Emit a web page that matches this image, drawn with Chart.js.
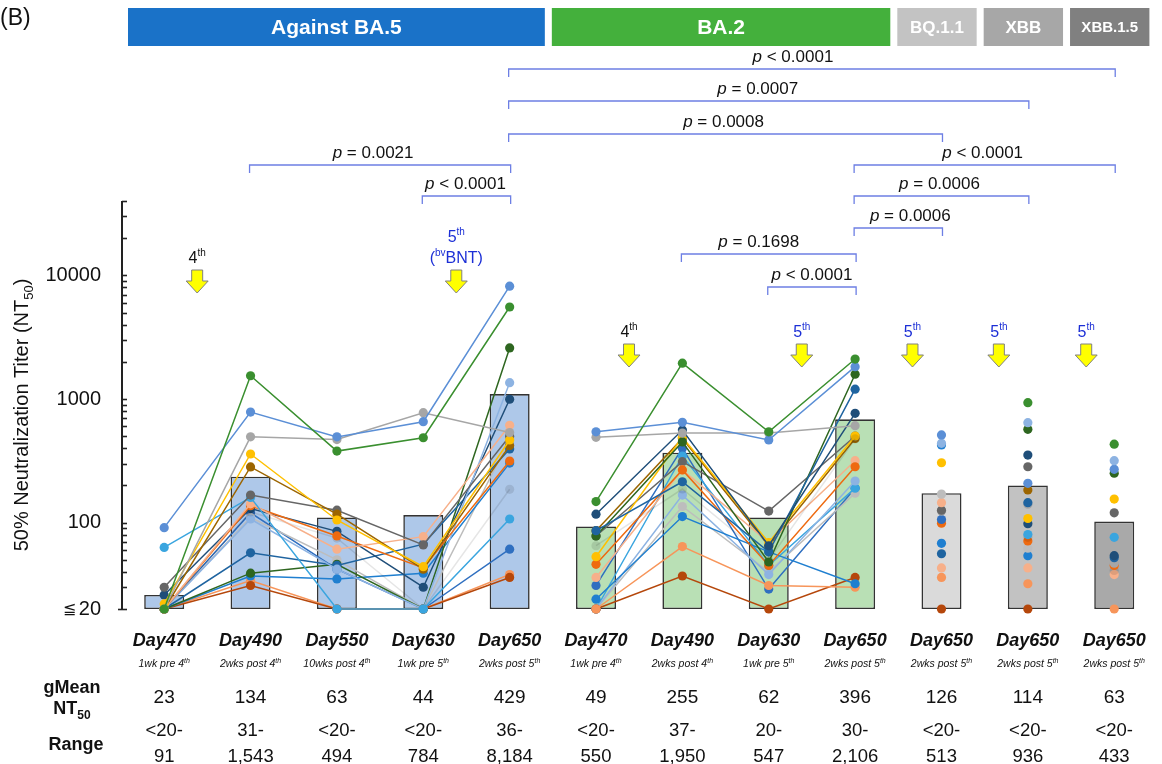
<!DOCTYPE html>
<html>
<head>
<meta charset="utf-8">
<script src="https://cdn.jsdelivr.net/npm/chart.js@4.4.1/dist/chart.umd.min.js"></script>
<style>
  html, body { margin: 0; padding: 0; background: #ffffff; }
  #wrap { width: 1162px; height: 764px; position: relative; }
</style>
</head>
<body>
<div id="wrap"><canvas id="chart" width="1162" height="764"></canvas></div>
<script>
// ---- categories and table rows ----
const categories = ['Day470', 'Day490', 'Day550', 'Day630', 'Day650',
                    'Day470', 'Day490', 'Day630', 'Day650',
                    'Day650', 'Day650', 'Day650'];
const subLabels = [['1wk pre 4', 'th'], ['2wks post 4', 'th'], ['10wks post 4', 'th'], ['1wk pre 5', 'th'], ['2wks post 5', 'th'],
                   ['1wk pre 4', 'th'], ['2wks post 4', 'th'], ['1wk pre 5', 'th'], ['2wks post 5', 'th'],
                   ['2wks post 5', 'th'], ['2wks post 5', 'th'], ['2wks post 5', 'th']];
const gMeanNT50 = ['23', '134', '63', '44', '429', '49', '255', '62', '396', '126', '114', '63'];
const rangeLow  = ['<20-', '31-', '<20-', '<20-', '36-', '<20-', '37-', '20-', '30-', '<20-', '<20-', '<20-'];
const rangeHigh = ['91', '1,543', '494', '784', '8,184', '550', '1,950', '547', '2,106', '513', '936', '433'];

// column bar heights
const barValues = [26, 235, 110, 115, 1097, 93, 368, 110, 685, 173, 200, 102];

// variant groups (first column, last column, header text)
const variantGroups = [[0, 4, 'Against BA.5'], [5, 8, 'BA.2'], [9, 9, 'BQ.1.1'], [10, 10, 'XBB'], [11, 11, 'XBB.1.5']];

// y axis ticks
const yTicks = [20, 30, 40, 50, 60, 70, 80, 90,
                100, 200, 300, 400, 500, 600, 700, 800, 900,
                1000, 2000, 3000, 4000, 5000, 6000, 7000, 8000, 9000,
                10000, 20000, 30000, 40000];
const yTickLabels = { 100: '100', 1000: '1000', 10000: '10000', 20: '20' };

// p-value comparisons: [from column, to column, label]
const pComparisons = [
  [4, 11, '< 0.0001'],
  [4, 10, '= 0.0007'],
  [4, 9,  '= 0.0008'],
  [1, 4,  '= 0.0021'],
  [8, 11, '< 0.0001'],
  [8, 10, '= 0.0006'],
  [3, 4,  '< 0.0001'],
  [8, 9,  '= 0.0006'],
  [6, 8,  '= 0.1698'],
  [7, 8,  '< 0.0001']
];

// booster doses: [column the arrow follows, dose number, vaccine note]
const doseMarks = [[0, '4', ''], [3, '5', 'BNT'], [5, '4', ''], [7, '5', ''], [9, '5', ''], [10, '5', ''], [11, '5', '']];

// ---- individual titers ----
// BA.5: Day470, Day490, Day550, Day630, Day650
const ba5Titers = [
  [20, 1543, 379, 486, 5550],
  [91, 784, 494, 655, 8184],
  [20, 494, 470, 775, 535],
  [22, 359, 105, 44, 466],
  [20, 282, 117, 42, 420],
  [30, 167, 126, 66, 500],
  [63, 160, 20, 20, 107],
  [20, 142, 61, 77, 613],
  [20, 137, 78, 43, 315],
  [20, 122, 75, 20, 186],
  [20, 107, 42, 20, 1356],
  [26, 130, 85, 30, 996],
  [20, 57, 45, 67, 394],
  [20, 39, 46, 20, 2590],
  [20, 37, 35, 39, 303],
  [20, 31, 20, 20, 36],
  [20, 34, 20, 20, 38],
  [20, 110, 50, 20, 470],
  [20, 120, 42, 20, 61]
];
const ba5Colors = ['green', 'cornflower', 'grey', 'yellow', 'brown', 'darkGrey', 'skyBlue', 'peach', 'orange',
                   'lightGreen', 'lightCorn', 'navy', 'teal', 'darkGreen', 'blue', 'rust', 'lightOrange', 'lightGrey', 'midBlue'];

// BA.2: Day470, Day490, Day630, Day650
const ba2Titers = [
  [148, 1950, 543, 2106],
  [543, 648, 466, 1828],
  [490, 530, 530, 608],
  [117, 561, 65, 766],
  [86, 214, 58, 1200],
  [78, 450, 48, 1587],
  [65, 187, 50, 475],
  [53, 490, 69, 502],
  [46, 267, 45, 283],
  [36, 267, 69, 317],
  [24, 112, 58, 32],
  [20, 64, 31, 30],
  [20, 37, 20, 36],
  [20, 167, 38, 217],
  [78, 311, 124, 500],
  [20, 346, 45, 190],
  [20, 135, 40, 173],
  [86, 480, 65, 480],
  [31, 400, 29, 190]
];
const ba2Colors = ['green', 'cornflower', 'grey', 'navy', 'teal', 'darkGreen', 'lightGreen', 'yellow', 'orange',
                   'peach', 'blue', 'lightOrange', 'rust', 'lightCorn', 'darkGrey', 'skyBlue', 'lightGrey', 'brown', 'midBlue'];

// Day650 against BQ.1.1, XBB, XBB.1.5
const bq11Titers = [512, 438, 425, 305, 170, 145, 126, 124, 106, 99, 68, 56, 43, 36, 20];
const bq11Colors = ['cornflower', 'lightCorn', 'blue', 'yellow', 'lightGrey', 'peach', 'darkGrey', 'grey', 'midBlue', 'orange',
                    'blue', 'teal', 'peach', 'lightOrange', 'rust'];
const xbbTiters = [934, 643, 569, 352, 283, 208, 184, 145, 141, 108, 98, 80, 76, 71, 62, 54, 43, 32, 20];
const xbbColors = ['green', 'lightCorn', 'darkGreen', 'navy', 'darkGrey', 'cornflower', 'brown', 'teal', 'grey', 'yellow',
                   'navy', 'skyBlue', 'lightGreen', 'orange', 'lightGrey', 'blue', 'peach', 'lightOrange', 'rust'];
const xbb15Titers = [431, 317, 270, 251, 155, 120, 76, 54, 52, 47, 45, 41, 38, 20];
const xbb15Colors = ['green', 'lightCorn', 'cornflower', 'darkGreen', 'yellow', 'darkGrey', 'skyBlue', 'navy', 'teal',
                     'grey', 'orange', 'lightGreen', 'peach', 'lightOrange'];

// ---- styling ----
const palette = {
  green: '#3a8f2f', cornflower: '#5b8fd6', lightCorn: '#8db3e2', darkGreen: '#2e6620',
  navy: '#1f4e79', teal: '#1f64a0', blue: '#1f7fd0', midBlue: '#2f6fc0', skyBlue: '#3aa5df',
  grey: '#a6a6a6', lightGrey: '#bdbdbd', darkGrey: '#666666', yellow: '#ffc000', brown: '#9c6500',
  peach: '#f7b08a', orange: '#ee6a10', lightOrange: '#f7955a', rust: '#b5470b'
};
const barFills = ['#aec8e9', '#aec8e9', '#aec8e9', '#aec8e9', '#aec8e9',
                  '#b9e0b5', '#b9e0b5', '#b9e0b5', '#b9e0b5',
                  '#dadada', '#c2c2c2', '#a9a9a9'];
const headerFills = ['#1a72c8', '#44b03c', '#c3c3c3', '#a7a7a7', '#808080'];
const headerFont = [21, 21, 17, 17, 15];
const FONT = "'Liberation Sans', Arial, Helvetica, sans-serif";
const BRACKET = '#6d7fe4';
const DOSE_BLUE = '#1c2fd6';

function seriesAt(offset, values) {
  const row = new Array(categories.length).fill(null);
  values.forEach((v, i) => { row[offset + i] = v; });
  return row;
}

function lineSet(data, colorName, showLine) {
  const c = palette[colorName];
  return {
    type: 'line', data, showLine, spanGaps: false, clip: false, order: 0,
    borderColor: c, backgroundColor: c, borderWidth: 1.5,
    pointBackgroundColor: c, pointBorderWidth: 0, pointRadius: 4.6, pointHoverRadius: 4.6
  };
}

const datasets = [{
  type: 'bar', data: barValues, order: 1,
  backgroundColor: barFills, borderColor: '#333333', borderWidth: 1.6, borderSkipped: false,
  barPercentage: 0.463, categoryPercentage: 1
}];
ba5Titers.forEach((r, i) => datasets.push(lineSet(seriesAt(0, r), ba5Colors[i], true)));
ba2Titers.forEach((r, i) => datasets.push(lineSet(seriesAt(5, r), ba2Colors[i], true)));
bq11Titers.forEach((v, i) => datasets.push(lineSet(seriesAt(9, [v]), bq11Colors[i], false)));
xbbTiters.forEach((v, i) => datasets.push(lineSet(seriesAt(10, [v]), xbbColors[i], false)));
xbb15Titers.forEach((v, i) => datasets.push(lineSet(seriesAt(11, [v]), xbb15Colors[i], false)));

// ---- text helpers ----
function font(size, bold, italic) {
  return (italic ? 'italic ' : '') + (bold ? 'bold ' : '') + size + 'px ' + FONT;
}
// parts: {t, size, bold, italic, dy}; y is the baseline
function richText(ctx, parts, x, y, align, color) {
  let w = 0;
  parts.forEach(p => { ctx.font = font(p.size, p.bold, p.italic); p.w = ctx.measureText(p.t).width; w += p.w; });
  let px = align === 'center' ? x - w / 2 : (align === 'right' ? x - w : x);
  ctx.fillStyle = color;
  ctx.textAlign = 'left';
  ctx.textBaseline = 'alphabetic';
  parts.forEach(p => {
    ctx.font = font(p.size, p.bold, p.italic);
    ctx.fillText(p.t, px, y + (p.dy || 0));
    px += p.w;
  });
}
function plainText(ctx, t, x, y, size, opts) {
  opts = opts || {};
  ctx.font = font(size, opts.bold, opts.italic);
  ctx.fillStyle = opts.color || '#111111';
  ctx.textAlign = opts.align || 'center';
  ctx.textBaseline = 'middle';
  ctx.fillText(t, x, y);
}
function downArrow(ctx, x, top) {
  const h = 23, shaftH = 11, sw = 5.5, hw = 11;
  ctx.beginPath();
  ctx.moveTo(x - sw, top);
  ctx.lineTo(x + sw, top);
  ctx.lineTo(x + sw, top + shaftH);
  ctx.lineTo(x + hw, top + shaftH);
  ctx.lineTo(x, top + h);
  ctx.lineTo(x - hw, top + shaftH);
  ctx.lineTo(x - sw, top + shaftH);
  ctx.closePath();
  ctx.fillStyle = '#ffff00';
  ctx.fill();
  ctx.strokeStyle = '#808080';
  ctx.lineWidth = 1;
  ctx.stroke();
}

// ---- decorations drawn around the plot ----
const decorations = {
  id: 'decorations',
  afterDraw(chart) {
    const ctx = chart.ctx;
    const xs = chart.scales.x, ys = chart.scales.y, area = chart.chartArea;
    const cx = i => xs.getPixelForValue(i);
    const step = cx(1) - cx(0);
    ctx.save();

    // panel letter
    plainText(ctx, '(B)', 0, 19, 23, { align: 'left' });

    // variant headers
    variantGroups.forEach((g, k) => {
      const l = cx(g[0]) - step / 2 + (k === 0 ? 7 : -1);
      const r = cx(g[1]) + step / 2 - 8;
      ctx.fillStyle = headerFills[k];
      ctx.fillRect(l, 8, r - l, 38);
      plainText(ctx, g[2], (l + r) / 2, 28, headerFont[k], { bold: true, color: '#ffffff' });
    });

    // p-value brackets
    const rowY = [69, 101, 134, 165, 165, 196, 196, 228, 254, 287];
    const textDx = [-19, -11, -2, -7, -2, -2, -1, 12, -10, 0];
    ctx.strokeStyle = BRACKET;
    ctx.lineWidth = 1.3;
    pComparisons.forEach((c, k) => {
      const x1 = cx(c[0]) - 1, x2 = cx(c[1]) + 1, y = rowY[k];
      ctx.beginPath();
      ctx.moveTo(x1, y + 8); ctx.lineTo(x1, y); ctx.lineTo(x2, y); ctx.lineTo(x2, y + 8);
      ctx.stroke();
      richText(ctx, [{ t: 'p', size: 17, italic: true }, { t: ' ' + c[2], size: 17 }],
               (x1 + x2) / 2 + textDx[k], y - 7, 'center', '#111111');
    });

    // booster arrows
    const arrowDx = [33, 33, 33, 33, -29, -29, -28];
    doseMarks.forEach((d, k) => {
      const ba5 = d[0] < 5;
      const ax = cx(d[0]) + arrowDx[k];
      const top = ba5 ? 270 : 344;
      const color = d[1] === '5' ? DOSE_BLUE : '#111111';
      downArrow(ctx, ax, top);
      if (d[2]) {
        richText(ctx, [{ t: d[1], size: 16 }, { t: 'th', size: 10, dy: -7 }], ax, top - 28, 'center', color);
        richText(ctx, [{ t: '(', size: 16 }, { t: 'bv', size: 10, dy: -7 }, { t: d[2] + ')', size: 16 }],
                 ax, top - 7, 'center', color);
      } else {
        richText(ctx, [{ t: d[1], size: 16 }, { t: 'th', size: 10, dy: -7 }], ax, top - 7, 'center', color);
      }
    });

    // y axis line and inward ticks
    const axX = area.left + 1;
    ctx.strokeStyle = '#222222';
    ctx.lineWidth = 2;
    ctx.beginPath();
    ctx.moveTo(axX, ys.getPixelForValue(40000));
    ctx.lineTo(axX, ys.getPixelForValue(20));
    ctx.stroke();
    ctx.lineWidth = 1.6;
    yTicks.forEach(v => {
      const y = Math.round(ys.getPixelForValue(v)) + 0.5;
      ctx.beginPath();
      ctx.moveTo(v === 20 ? axX - 4 : axX, y);
      ctx.lineTo(axX + 5, y);
      ctx.stroke();
    });
    plainText(ctx, '\u2266', 76, ys.getPixelForValue(20) + 1, 16, { align: 'right' });

    // y axis title
    ctx.save();
    ctx.translate(28, 415);
    ctx.rotate(-Math.PI / 2);
    richText(ctx, [{ t: '50% Neutralization Titer (NT', size: 20 }, { t: '50', size: 13, dy: 5 }, { t: ')', size: 20 }],
             0, 0, 'center', '#111111');
    ctx.restore();

    // column labels and table
    categories.forEach((c, i) => {
      const x = cx(i);
      plainText(ctx, c, x, 641, 18, { bold: true, italic: true });
      richText(ctx, [{ t: subLabels[i][0], size: 10.5, italic: true }, { t: subLabels[i][1], size: 7, italic: true, dy: -4 }],
               x, 667, 'center', '#111111');
      plainText(ctx, gMeanNT50[i], x, 698, 19);
      plainText(ctx, rangeLow[i], x, 731, 18.5);
      plainText(ctx, rangeHigh[i], x, 757, 18.5);
    });
    plainText(ctx, 'gMean', 72, 688, 18, { bold: true });
    richText(ctx, [{ t: 'NT', size: 18, bold: true }, { t: '50', size: 12, bold: true, dy: 5 }], 72, 714, 'center', '#111111');
    plainText(ctx, 'Range', 76, 745, 18, { bold: true });

    ctx.restore();
  }
};

new Chart(document.getElementById('chart'), {
  type: 'bar',
  data: { labels: categories, datasets },
  plugins: [decorations],
  options: {
    responsive: false,
    animation: false,
    devicePixelRatio: 1,
    layout: { padding: { top: 201, bottom: 155, left: 0, right: 4 } },
    plugins: { legend: { display: false }, tooltip: { enabled: false } },
    scales: {
      x: { type: 'category', display: false, offset: true },
      y: {
        type: 'logarithmic', min: 20, max: 40000,
        afterBuildTicks: s => { s.ticks = yTicks.map(v => ({ value: v })); },
        afterFit: s => { s.width = 121; },
        grid: { display: false, drawTicks: false },
        border: { display: false },
        ticks: {
          autoSkip: false, padding: 20, color: '#111111',
          font: { family: FONT, size: 20 },
          callback: v => yTickLabels[v] || ''
        }
      }
    }
  }
});
</script>
</body>
</html>
